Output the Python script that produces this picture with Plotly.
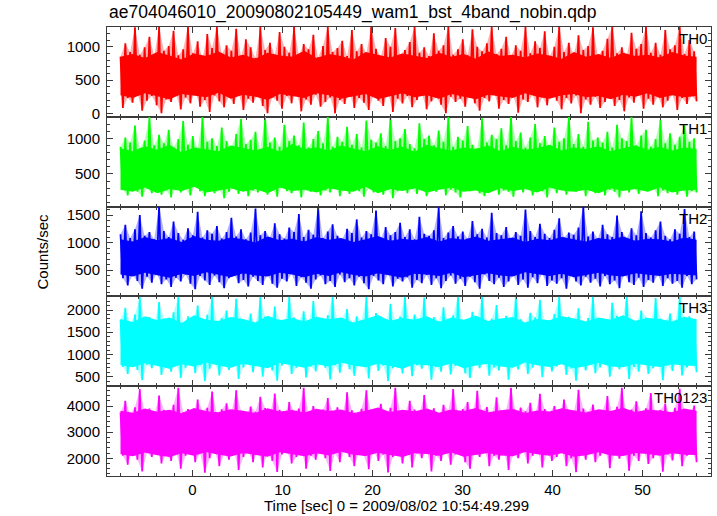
import numpy as np
import plotly.graph_objects as go
from plotly.subplots import make_subplots

title_text = "ae704046010_20090802105449_wam1_bst_4band_nobin.qdp"
x_title = "Time [sec] 0 = 2009/08/02 10:54:49.299"
y_title = "Counts/sec"
band_names = ["TH0", "TH1", "TH2", "TH3", "TH0123"]
band_colors = ["#ff0000", "#00ff00", "#0000ff", "#00ffff", "#ff00ff"]
band_tints = ["rgba(255,0,0,0.3)", "rgba(0,255,0,0.3)", "rgba(0,0,255,0.3)",
              "rgba(0,255,255,0.3)", "rgba(255,0,255,0.3)"]
t_start, t_stop = -8.0, 56.0

# local maxima / minima of each light curve (counts/sec)
th0_peak = [850, 1050, 920, 1290, 880, 990, 1150, 860, 1300, 940,
            1010, 1240, 870, 960, 1300, 900, 1080, 820, 1190, 980,
            1300, 890, 1020, 940, 1270, 860, 1110, 990, 830, 1300,
            950, 1060, 880, 1220, 1000, 910, 1300, 870, 1040, 960,
            1180, 840, 1010, 1300, 920, 980, 1090, 860, 1250, 930,
            1040, 900, 1300, 970, 850, 1130, 1000, 1280, 880, 950,
            1070, 1300, 910, 990, 860, 1200, 940, 1020, 1300, 880,
            960, 1110, 870, 1260, 1000, 930, 1050, 1300, 890, 970,
            1150, 860, 1020, 940, 1300, 900, 1080, 980, 1230, 850,
            1000, 1300, 920, 1060, 880, 1170, 950, 1010, 1290, 870,
            940, 1120, 1300, 900, 990, 860, 1210, 970, 1040, 1300,
            910, 1060, 880, 1250, 960, 1020, 1300, 890, 1100, 930]
th0_dip = [80, 230, 160, 310, 40, 190, 260, 120, 0, 210,
           170, 290, 60, 240, 150, 330, 100, 200, 20, 270,
           180, 90, 250, 140, 300, 50, 220, 160, 280, 110,
           0, 240, 190, 70, 260, 150, 320, 30, 210, 130,
           280, 100, 170, 240, 0, 200, 140, 300, 80, 230,
           160, 50, 270, 190, 110, 310, 20, 220, 150, 260,
           90, 200, 300, 60, 180, 240, 130, 0, 250, 170,
           220, 100, 290, 150, 40, 230, 180, 320, 70, 200,
           140, 260, 10, 210, 170, 280, 90, 240, 120, 300,
           190, 60, 230, 150, 270, 0, 210, 130, 250, 80,
           170, 290, 110, 200, 30, 240, 160, 310, 70, 220,
           130, 250, 90, 190, 280, 50, 230, 140, 260, 180]

th1_peak = [880, 1010, 940, 1180, 860, 970, 1300, 900, 1050, 930,
            1120, 870, 990, 1240, 910, 1030, 860, 1300, 950, 1000,
            890, 1150, 960, 870, 1060, 1270, 920, 980, 1090, 850,
            1300, 940, 1010, 880, 1190, 960, 1040, 900, 1220, 870,
            990, 1100, 930, 1300, 880, 1020, 950, 1160, 910, 1060,
            870, 1250, 980, 940, 1070, 890, 1300, 960, 1000, 1130,
            920, 860, 1210, 990, 1040, 900, 1110, 950, 1300, 880,
            1020, 970, 1170, 910, 860, 1280, 940, 1050, 990, 1140,
            900, 1300, 960, 1080, 870, 1010, 1200, 930, 1030, 890,
            1150, 950, 1000, 1300, 920, 1060, 880, 1230, 970, 1010,
            940, 1090, 870, 1190, 1000, 960, 1300, 900, 1040, 1120,
            880, 990, 1260, 930, 1070, 910, 1020, 1180, 950, 1000]
th1_dip = [280, 200, 330, 250, 180, 300, 230, 350, 210, 270,
           170, 310, 240, 290, 200, 340, 260, 190, 320, 230,
           280, 160, 250, 300, 220, 350, 190, 270, 240, 310,
           210, 290, 180, 330, 260, 230, 300, 170, 280, 250,
           320, 200, 270, 240, 350, 190, 290, 220, 310, 260,
           180, 300, 240, 330, 210, 280, 160, 260, 340, 230,
           290, 220, 310, 190, 270, 250, 340, 200, 280, 240,
           170, 320, 260, 300, 230, 190, 290, 350, 210, 270,
           250, 180, 330, 240, 310, 200, 280, 260, 170, 300,
           230, 340, 210, 290, 250, 320, 190, 270, 230, 310,
           200, 280, 250, 170, 330, 240, 300, 220, 290, 260,
           310, 190, 270, 230, 350, 210, 290, 180, 260, 240]

th2_peak = [1150, 1320, 1080, 1240, 1500, 1120, 1190, 1060, 1660, 1210,
            1100, 1380, 1170, 1050, 1260, 1130, 1560, 1090, 1220, 1160,
            1300, 1070, 1190, 1450, 1110, 1240, 1060, 1180, 1620, 1130,
            1210, 1090, 1350, 1150, 1070, 1270, 1190, 1520, 1100, 1230,
            1140, 1660, 1080, 1200, 1330, 1120, 1060, 1250, 1170, 1420,
            1090, 1210, 1150, 1580, 1070, 1280, 1130, 1190, 1360, 1100,
            1240, 1060, 1470, 1160, 1120, 1220, 1640, 1080, 1180, 1300,
            1110, 1200, 1070, 1390, 1150, 1250, 1090, 1540, 1170, 1130,
            1280, 1060, 1190, 1120, 1600, 1210, 1100, 1340, 1160, 1080,
            1230, 1440, 1090, 1180, 1140, 1270, 1660, 1110, 1200, 1070,
            1320, 1150, 1100, 1490, 1190, 1080, 1260, 1130, 1570, 1170,
            1090, 1220, 1380, 1120, 1060, 1240, 1160, 1610, 1100, 1200]
th2_dip = [350, 220, 410, 300, 160, 380, 270, 440, 240, 330,
           190, 360, 290, 420, 250, 150, 390, 310, 230, 400,
           280, 170, 350, 440, 260, 320, 200, 380, 300, 230,
           410, 250, 180, 340, 290, 430, 210, 370, 270, 160,
           330, 400, 240, 300, 190, 420, 280, 350, 220, 380,
           260, 150, 390, 310, 240, 430, 200, 340, 290, 370,
           180, 320, 260, 410, 230, 350, 170, 300, 400, 250,
           340, 210, 380, 280, 160, 420, 300, 240, 360, 190,
           290, 400, 230, 330, 180, 370, 260, 440, 210, 310,
           250, 350, 160, 410, 290, 220, 380, 270, 340, 200,
           390, 240, 310, 170, 430, 280, 230, 360, 190, 320,
           270, 410, 210, 350, 250, 300, 180, 390, 240, 330]

th3_peak = [1780, 2050, 1690, 1900, 2300, 1750, 1840, 1660, 2180, 1810,
            1720, 1950, 2300, 1700, 1860, 1770, 2100, 1680, 1890, 2300,
            1740, 1820, 1990, 1690, 2250, 1800, 1730, 1920, 1660, 2300,
            1850, 1710, 2080, 1780, 1680, 2300, 1830, 1750, 1970, 1700,
            2200, 1790, 1670, 1880, 2300, 1740, 1820, 2020, 1690, 1860,
            1760, 2300, 1700, 1930, 1810, 1680, 2140, 1770, 1850, 2300,
            1720, 1900, 1790, 2280, 1670, 1840, 1750, 2060, 1710, 1880,
            2300, 1760, 1690, 1960, 1820, 2300, 1730, 1800, 2110, 1680,
            1870, 1740, 2300, 1790, 1700, 1940, 1830, 2230, 1760, 1690,
            1910, 2300, 1720, 1850, 1780, 2040, 1670, 1820, 2300, 1750,
            1800, 1690, 2160, 1870, 1740, 2300, 1780, 1710, 1990, 1830,
            1700, 2270, 1810, 1750, 1920, 1680, 2300, 1790, 1860, 1740]
th3_dip = [720, 560, 830, 650, 420, 770, 690, 880, 540, 740,
           610, 800, 470, 700, 850, 580, 760, 400, 680, 820,
           530, 740, 650, 870, 450, 710, 790, 600, 860, 500,
           780, 640, 410, 750, 830, 560, 700, 880, 480, 730,
           620, 810, 700, 440, 760, 590, 850, 670, 520, 790,
           720, 460, 840, 630, 750, 400, 690, 800, 570, 870,
           510, 760, 680, 820, 430, 720, 610, 860, 550, 740,
           800, 580, 470, 770, 690, 840, 520, 710, 640, 880,
           430, 750, 660, 810, 560, 700, 870, 490, 780, 620,
           730, 850, 540, 690, 410, 760, 640, 820, 580, 710,
           860, 500, 740, 670, 800, 450, 720, 610, 840, 560,
           690, 780, 420, 750, 630, 870, 530, 710, 800, 600]

th0123_peak = [3750, 4200, 3680, 3950, 4650, 3800, 3900, 3620, 4400, 3850,
               3700, 4050, 4700, 3760, 3880, 3650, 4250, 3820, 3930, 4550,
               3690, 3870, 4100, 3740, 4600, 3810, 3660, 3980, 3780, 4350,
               3920, 3710, 4480, 3850, 3640, 4150, 3790, 3900, 4700, 3730,
               4000, 3680, 3860, 4300, 3770, 3950, 3620, 4520, 3840, 3700,
               3890, 4600, 3750, 3820, 4080, 3660, 3930, 4700, 3800, 3720,
               4200, 3860, 3690, 4420, 3780, 3910, 3640, 4050, 3830, 4650,
               3740, 3880, 4150, 3700, 4580, 3820, 3960, 3670, 4330, 3790,
               3850, 4700, 3720, 3940, 3800, 4120, 3650, 4470, 3880, 3760,
               4000, 3690, 4250, 3840, 3730, 4620, 3900, 3780, 4060, 3660,
               3820, 4380, 3750, 3970, 4700, 3680, 3860, 4180, 3790, 3910,
               4500, 3720, 3850, 4090, 3640, 3930, 4660, 3800, 3740, 4020]
th0123_dip = [2100, 1750, 2300, 1950, 1500, 2200, 2050, 2350, 1800, 2150,
              1900, 2250, 1600, 2100, 2380, 1850, 2200, 1450, 2000, 2300,
              1700, 2150, 1950, 2350, 1550, 2050, 2250, 1850, 2320, 1650,
              2200, 1900, 1480, 2150, 2300, 1800, 2050, 2360, 1600, 2100,
              1950, 2280, 2000, 1520, 2200, 1850, 2340, 2050, 1700, 2250,
              2100, 1580, 2300, 1900, 2150, 1460, 2050, 2250, 1800, 2350,
              1650, 2200, 2000, 2300, 1500, 2100, 1900, 2330, 1750, 2150,
              2250, 1850, 1600, 2200, 2050, 2350, 1700, 2100, 1950, 2300,
              1550, 2150, 2000, 2280, 1800, 2100, 2340, 1650, 2200, 1900,
              2050, 2320, 1700, 2000, 1470, 2200, 1950, 2300, 1850, 2100,
              2350, 1620, 2150, 1980, 2260, 1530, 2100, 1900, 2300, 1780,
              2000, 2250, 1490, 2150, 1920, 2350, 1700, 2100, 2280, 1850]

# edges of the densely filled core of each light curve
th0_core_hi = [850, 890, 830, 920, 870, 810, 900, 860, 930, 840, 880, 820,
               910, 870, 850, 940, 830, 890, 860, 810, 920, 880, 840, 900,
               870, 830, 910, 850, 890, 820, 930, 860, 880, 840, 900, 870,
               820, 920, 850, 890, 830, 910, 860, 880, 840, 920, 870, 850]
th0_core_lo = [270, 230, 300, 250, 210, 290, 260, 240, 310, 220, 280, 250,
               200, 290, 260, 230, 300, 270, 220, 250, 290, 210, 260, 300,
               240, 270, 220, 290, 250, 210, 280, 260, 230, 300, 250, 220,
               270, 290, 240, 260, 210, 280, 250, 300, 230, 270, 240, 260]
th1_core_hi = [860, 820, 890, 840, 910, 800, 870, 850, 820, 900, 860, 830,
               880, 810, 920, 850, 870, 830, 900, 860, 820, 890, 840, 880,
               810, 910, 860, 830, 870, 850, 900, 820, 880, 840, 860, 910,
               830, 870, 850, 890, 820, 860, 900, 840, 880, 830, 870, 850]
th1_core_lo = [280, 250, 310, 230, 290, 260, 320, 240, 270, 300, 250, 290,
               230, 310, 260, 280, 240, 300, 270, 250, 320, 230, 290, 260,
               300, 240, 280, 310, 250, 270, 230, 300, 260, 290, 240, 310,
               270, 250, 280, 230, 300, 260, 290, 250, 310, 240, 270, 280]
th2_core_hi = [1060, 1020, 1100, 1040, 1080, 1010, 1120, 1050, 1030, 1090, 1060, 1000,
               1110, 1040, 1070, 1020, 1100, 1050, 1080, 1010, 1060, 1120, 1030, 1070,
               1040, 1100, 1020, 1080, 1050, 1110, 1030, 1060, 1090, 1010, 1070, 1040,
               1100, 1060, 1020, 1080, 1050, 1110, 1030, 1070, 1060, 1020, 1090, 1050]
th2_core_lo = [420, 380, 450, 400, 360, 430, 390, 460, 410, 370, 440, 400,
               380, 450, 420, 370, 430, 390, 460, 410, 380, 440, 400, 360,
               430, 420, 390, 450, 370, 410, 440, 400, 380, 460, 420, 390,
               430, 370, 410, 450, 400, 380, 440, 420, 390, 430, 410, 400]
th3_core_hi = [1800, 1730, 1860, 1770, 1830, 1710, 1880, 1780, 1750, 1840, 1800, 1720,
               1870, 1770, 1820, 1740, 1850, 1790, 1830, 1720, 1800, 1890, 1760, 1820,
               1780, 1860, 1730, 1830, 1780, 1870, 1750, 1810, 1840, 1720, 1800, 1770,
               1860, 1810, 1740, 1830, 1780, 1880, 1760, 1820, 1800, 1740, 1850, 1790]
th3_core_lo = [760, 710, 800, 740, 680, 780, 730, 820, 750, 700, 790, 740,
               690, 810, 760, 700, 780, 730, 820, 750, 710, 790, 740, 680,
               780, 760, 720, 800, 690, 750, 790, 730, 700, 820, 760, 720,
               780, 690, 740, 810, 730, 710, 790, 760, 720, 780, 750, 740]
th0123_core_hi = [3820, 3740, 3900, 3780, 3860, 3720, 3920, 3800, 3760, 3880, 3820, 3730,
                  3910, 3790, 3850, 3750, 3890, 3810, 3870, 3730, 3820, 3940, 3770, 3860,
                  3800, 3900, 3740, 3870, 3810, 3920, 3760, 3840, 3890, 3730, 3830, 3790,
                  3910, 3840, 3750, 3880, 3810, 3930, 3770, 3860, 3830, 3760, 3900, 3820]
th0123_core_lo = [2150, 2080, 2220, 2120, 2050, 2190, 2100, 2240, 2140, 2070, 2200, 2130,
                  2060, 2230, 2160, 2080, 2190, 2110, 2250, 2140, 2090, 2210, 2130, 2050,
                  2190, 2160, 2100, 2220, 2060, 2140, 2200, 2110, 2080, 2240, 2150, 2100,
                  2190, 2060, 2120, 2230, 2110, 2090, 2200, 2160, 2100, 2190, 2140, 2130]

peaks = [th0_peak, th1_peak, th2_peak, th3_peak, th0123_peak]
dips = [th0_dip, th1_dip, th2_dip, th3_dip, th0123_dip]
core_his = [th0_core_hi, th1_core_hi, th2_core_hi, th3_core_hi, th0123_core_hi]
core_los = [th0_core_lo, th1_core_lo, th2_core_lo, th3_core_lo, th0123_core_lo]

y_ranges = [[-52, 1296], [43, 1301], [20, 1653], [286, 2306], [1323, 4757]]
y_dticks = [500, 500, 500, 500, 1000]
y_minor = [100, 100, 100, 100, 200]

fig = make_subplots(rows=5, cols=1, shared_xaxes=True, vertical_spacing=0)

for i in range(5):
    col = band_colors[i]
    ys = []
    for p, d in zip(peaks[i], dips[i]):
        ys.extend([p, d])
    ts = np.linspace(t_start, t_stop, len(ys))
    # faint envelope between successive dips and peaks
    fig.add_trace(go.Scatter(x=ts[1::2], y=dips[i], mode="lines",
                             line=dict(width=0), hoverinfo="skip", showlegend=False),
                  row=i + 1, col=1)
    fig.add_trace(go.Scatter(x=ts[0::2], y=peaks[i], mode="lines",
                             line=dict(width=0), fill="tonexty", fillcolor=band_tints[i],
                             hoverinfo="skip", showlegend=False),
                  row=i + 1, col=1)
    # dense core
    tc = np.linspace(t_start, t_stop, len(core_his[i]))
    fig.add_trace(go.Scatter(x=tc, y=core_los[i], mode="lines",
                             line=dict(color=col, width=0),
                             hoverinfo="skip", showlegend=False),
                  row=i + 1, col=1)
    fig.add_trace(go.Scatter(x=tc, y=core_his[i], mode="lines",
                             line=dict(color=col, width=0), fill="tonexty",
                             fillcolor=col, hoverinfo="skip", showlegend=False),
                  row=i + 1, col=1)
    # spikes
    fig.add_trace(go.Scatter(x=ts, y=ys, mode="lines",
                             line=dict(color=col, width=1.8),
                             hoverinfo="skip", showlegend=False),
                  row=i + 1, col=1)

frame_col = "#3a3a3a"
axis_style = dict(showline=True, linecolor=frame_col, linewidth=1,
                  mirror="allticks", ticks="inside", tickcolor=frame_col,
                  ticklen=6, tickwidth=1, showgrid=False, zeroline=False)
font_family = "Liberation Sans, Arial, Helvetica, sans-serif"

for i in range(5):
    fig.update_xaxes(range=[-9.5, 57.6], dtick=10, tick0=0,
                     minor=dict(ticks="inside", dtick=2, tick0=0, ticklen=3,
                                tickcolor=frame_col, showgrid=False),
                     tickfont=dict(size=15, color="black", family=font_family),
                     row=i + 1, col=1, **axis_style)
    fig.update_yaxes(range=y_ranges[i], dtick=y_dticks[i], tick0=0,
                     minor=dict(ticks="inside", dtick=y_minor[i], tick0=0, ticklen=3,
                                tickcolor=frame_col, showgrid=False),
                     tickfont=dict(size=15, color="black", family=font_family),
                     ticklabelstandoff=3,
                     row=i + 1, col=1, **axis_style)
    yref = "y domain" if i == 0 else f"y{i + 1} domain"
    xref = "x domain" if i == 0 else f"x{i + 1} domain"
    fig.add_annotation(text=band_names[i], x=1, y=1, xref=xref, yref=yref,
                       xanchor="right", yanchor="top", xshift=-2, yshift=-1,
                       showarrow=False,
                       font=dict(size=15, color="black", family=font_family))

fig.add_annotation(text=title_text, x=0, y=1, xref="paper", yref="paper",
                   xanchor="left", yanchor="bottom", yshift=2, showarrow=False,
                   font=dict(size=17.5, color="black", family=font_family))
fig.add_annotation(text=x_title, x=0.48, y=-0.066, xref="paper", yref="paper",
                   xanchor="center", yanchor="middle", showarrow=False,
                   font=dict(size=15, color="black", family=font_family))
fig.add_annotation(text=y_title, x=-0.1076, y=0.5, xref="paper", yref="paper",
                   xanchor="center", yanchor="middle", textangle=-90, showarrow=False,
                   font=dict(size=15, color="black", family=font_family))

fig.update_layout(width=717, height=516,
                  margin=dict(l=107, r=6, t=27, b=40),
                  plot_bgcolor="white", paper_bgcolor="white",
                  showlegend=False, hovermode=False)

fig.write_html("out.html", config={"displayModeBar": False},
               post_script="document.body.style.margin='0';document.body.style.overflow='hidden';")
